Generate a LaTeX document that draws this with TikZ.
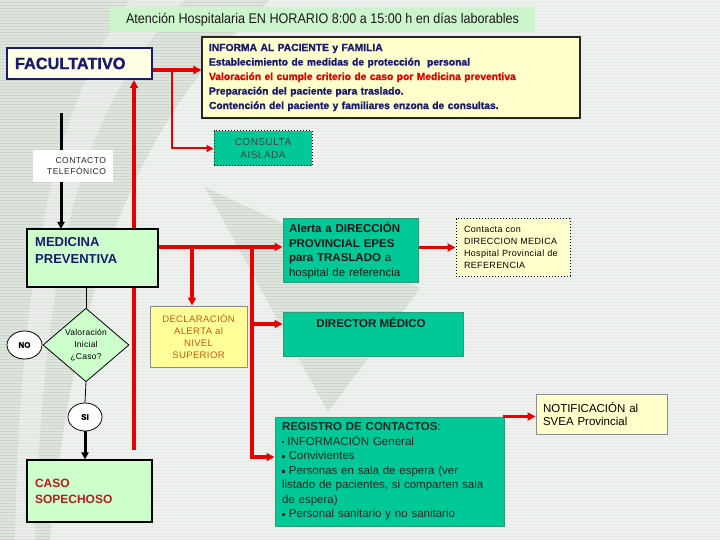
\documentclass[tikz,border=0pt]{standalone}
\usepackage{fontspec}
\setmainfont{Liberation Sans}
\newfontfamily\narrowfont[FakeStretch=0.9]{Liberation Sans}
\newfontfamily\heavyfont[BoldFeatures={FakeBold=1.3}]{Liberation Sans}
\usetikzlibrary{arrows.meta,shapes.geometric,calc}
\definecolor{bgc}{HTML}{E6EAE6}
\definecolor{swoosh}{HTML}{CDD6CD}
\definecolor{titlegreen}{HTML}{CCF5CC}
\definecolor{infoyellow}{HTML}{FFFFCC}
\definecolor{facfill}{HTML}{FFFFE6}
\definecolor{navy}{HTML}{1A1A6E}
\definecolor{myred}{HTML}{E60000}
\definecolor{tealbox}{HTML}{00C896}
\definecolor{tealborder}{HTML}{2E9C7A}
\definecolor{lgreen}{HTML}{CCFFCC}
\definecolor{declyellow}{HTML}{FFFF99}
\definecolor{orangetext}{HTML}{CC5A0A}
\definecolor{darkredtext}{HTML}{B41E1E}
\newcommand{\regsq}{\raisebox{1.8pt}{\rule{3pt}{3pt}}}
\newcommand{\regdot}{\raisebox{2.5pt}{\rule{1.6pt}{1.6pt}}\ }
\begin{document}
\begin{tikzpicture}[x=1pt,y=-1pt,
  redline/.style={draw=myred, line width=3.8pt},
  redarrow/.style={redline, -{Triangle[length=8pt,width=8pt]}},
  thinredarrow/.style={draw=myred, line width=2pt, -{Triangle[length=7pt,width=7pt]}},
  blackarrow/.style={draw=black, line width=3pt, -{Triangle[length=7pt,width=7pt]}},
  thinline/.style={draw=black, line width=0.8pt}]
\useasboundingbox (0,0) rectangle (720,540);
\fill[bgc] (0,0) rectangle (720,540);
% background swooshes
\fill[swoosh] (0,0) -- (270,0) .. controls (170,90) and (80,220) .. (50,540) -- (0,540) -- cycle;
\fill[bgc!70!swoosh] (130,0) -- (185,0) .. controls (100,90) and (45,200) .. (35,540) -- (15,540) .. controls (20,250) and (60,100) .. (130,0) -- cycle;
\fill[swoosh] (205,187) -- (420,288) -- (328,412) -- cycle;
\foreach \yy in {1,4,...,540} \draw[white, opacity=0.35, line width=1.2pt] (0,\yy) -- (720,\yy);

% title
\node[fill=titlegreen, minimum width=425pt, minimum height=25pt, inner sep=0pt,
  font=\narrowfont\fontsize{14}{16}\selectfont, text=black!90] (title) at (322.5,19.5)
  {Atención Hospitalaria EN HORARIO 8:00 a 15:00 h en días laborables};

% lines under boxes
\coordinate (rb) at (134,450);
\coordinate (bt) at (61,113);

\node[draw=navy, line width=2pt, fill=facfill, minimum height=31pt, text width=129pt,
  inner xsep=8pt, inner ysep=0pt, align=left, text=navy,
  font=\heavyfont\bfseries\fontsize{16.3}{18}\selectfont] (fac) at (79.5,63.5) {FACULTATIVO};

\draw[redarrow] (rb) -- (rb |- fac.south);
\draw[blackarrow] (bt) -- (61,229);

\node[draw=black!85, line width=1.2pt, fill=infoyellow, minimum width=378pt, minimum height=81pt,
  text width=364pt, inner xsep=7pt, align=left, text=navy,
  font=\heavyfont\bfseries\fontsize{10.3}{14.5}\selectfont] (info) at (391,77.5)
  {INFORMA AL PACIENTE y FAMILIA\\
   Establecimiento de medidas de protección\ \ personal\\
   \textcolor{myred}{Valoración el cumple criterio de caso por Medicina preventiva}\\
   Preparación del paciente para traslado.\\
   Contención del paciente y familiares enzona de consultas.};

\node[draw=black, dotted, line width=1pt, fill=tealbox, minimum width=98pt, minimum height=35pt,
  inner sep=0pt, align=center, text=black!75,
  font=\fontsize{10}{13}\selectfont\addfontfeature{LetterSpace=5}] (consulta) at (263,148.5)
  {CONSULTA\\AISLADA};

\node[fill=white, minimum width=80pt, minimum height=32pt, text width=66pt, inner xsep=7pt,
  inner ysep=0pt, align=right, text=black!85,
  font=\fontsize{8.5}{11}\selectfont\addfontfeature{LetterSpace=6}] (tel) at (73,166)
  {CONTACTO\\TELEFÓNICO};

\node[draw=black, line width=1.2pt, fill=lgreen, minimum width=131pt, minimum height=58pt,
  inner sep=0pt] (med) at (92.5,258) {};
\node[anchor=north west, inner sep=0pt, align=left, text=navy,
  font=\bfseries\fontsize{13}{16.5}\selectfont] (medtxt) at (35,237.5) {MEDICINA\\PREVENTIVA};

\node[draw=black!45, line width=1pt, fill=declyellow, minimum width=97pt, minimum height=61pt,
  inner sep=0pt, align=center, text=orangetext,
  font=\fontsize{9.5}{12}\selectfont\addfontfeature{LetterSpace=4}] (decl) at (198.5,336.5)
  {DECLARACIÓN\\ALERTA al\\NIVEL\\SUPERIOR};

\node[diamond, draw=black, line width=0.8pt, fill=lgreen, minimum width=86pt, minimum height=72pt,
  inner sep=0pt, align=center,
  font=\fontsize{8.5}{12}\selectfont\addfontfeature{LetterSpace=3}] (dia) at (86,345)
  {Valoración\\Inicial\\¿Caso?};

\node[ellipse, draw=black, line width=0.8pt, fill=white, minimum width=35pt, minimum height=28pt,
  inner sep=0pt, font=\heavyfont\bfseries\fontsize{8}{9}\selectfont] (no) at (24.5,345) {NO};
\node[ellipse, draw=black, line width=0.8pt, fill=white, minimum width=34pt, minimum height=28pt,
  inner sep=0pt, font=\heavyfont\bfseries\fontsize{8}{9}\selectfont] (si) at (85,417) {SI};

\node[draw=black, line width=1.2pt, fill=lgreen, minimum width=125pt, minimum height=62pt,
  text width=109pt, inner xsep=8pt, inner ysep=0pt, align=left, text=darkredtext,
  font=\bfseries\fontsize{12}{16}\selectfont] (caso) at (89.5,491) {CASO\\SOPECHOSO};

\node[draw=tealborder, line width=1pt, fill=tealbox, minimum width=135pt, minimum height=63pt,
  text width=123pt, inner xsep=6pt, inner ysep=0pt, align=left, text=black!90,
  font=\fontsize{11.5}{14.5}\selectfont] (alerta) at (350.5,250.5)
  {\textbf{Alerta a DIRECCIÓN}\\\textbf{PROVINCIAL EPES}\\\textbf{para TRASLADO} a\\hospital de referencia};

\node[draw=black, dotted, line width=1pt, fill=infoyellow, minimum width=114pt, minimum height=57pt,
  text width=98pt, inner xsep=8pt, inner ysep=0pt, align=left,
  font=\fontsize{9}{12}\selectfont\addfontfeature{LetterSpace=4}] (contacta) at (513,247.5)
  {Contacta con\\DIRECCION MEDICA\\Hospital Provincial de\\REFERENCIA};

\node[draw=tealborder, line width=1pt, fill=tealbox, minimum width=180pt, minimum height=44pt,
  inner sep=0pt] (dir) at (373,334) {};
\node[anchor=base, inner sep=0pt, font=\bfseries\fontsize{11.5}{14}\selectfont, text=black!90]
  (dirtxt) at (371,327.5) {DIRECTOR MÉDICO};

\node[draw=tealborder, line width=1pt, fill=tealbox, minimum width=229pt, minimum height=109pt,
  text width=215pt, inner xsep=7pt, inner ysep=0pt, align=left, text=black!85,
  font=\fontsize{11.5}{14.5}\selectfont] (reg) at (389.5,471.5)
  {\textbf{REGISTRO DE CONTACTOS}:\\
   \regdot INFORMACIÓN General\\
   \regsq\ Convivientes\\
   \regsq\ Personas en sala de espera (ver\\
   listado de pacientes, si comparten sala\\
   de espera)\\
   \regsq\ Personal sanitario y no sanitario};

\node[draw=black!45, line width=1pt, fill=infoyellow, minimum width=131pt, minimum height=40pt,
  text width=117pt, inner xsep=7pt, inner ysep=0pt, align=left,
  font=\fontsize{11.5}{13.5}\selectfont] (notif) at (601.5,414)
  {NOTIFICACIÓN al\\SVEA Provincial};

% connectors
\draw[redarrow] ([yshift=-6.5pt]fac.east) -- ([yshift=-6.5pt]fac.east -| info.west);
\coordinate (j1) at (172,70);
\draw[thinredarrow] (j1) |- (consulta.west);

\draw[redarrow] ([yshift=11pt]med.east) -- ([yshift=11pt]med.east -| alerta.west);
\coordinate (j2) at (192,247);
\coordinate (j3) at (252,247);
\draw[redarrow] (j2) -- (j2 |- decl.north);
\draw[redarrow] (j3) |- ([yshift=14.5pt]reg.west);
\draw[redarrow] ([yshift=10pt]dir.west -| j3) -- ([yshift=10pt]dir.west);
\draw[redarrow] (alerta.east |- contacta.west) -- (contacta.west);
\draw[redarrow] ([xshift=-2pt]reg.north east) -- (reg.north east -| notif.west);

\draw[thinline] (dia.north |- med.south) -- (dia.north);
\draw[thinline] (dia.south) -- (si.north);
\draw[blackarrow] (si.south) -- (si.south |- caso.north);
\end{tikzpicture}
\end{document}
